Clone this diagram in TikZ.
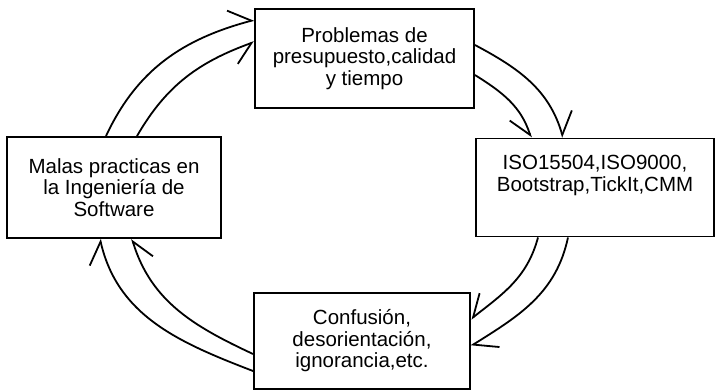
\documentclass[tikz,border=0pt]{standalone}
\usepackage{fontspec}
\setmainfont{Liberation Sans}
\usepackage{tikz}
\usetikzlibrary{positioning}
\usetikzlibrary{arrows.meta}
\tikzset{	x=1pt, y=1pt,
	caja/.style={
		draw,
		line width=1.9pt,
		inner sep=0pt,
		align=center,
		font=\fontsize{20.5}{21.5}\selectfont},
	every edge/.style={
		draw,
		line width=1.8pt},
	exterior/.style={-{Straight Barb[left, length=21pt, width=32pt]}},
	interior/.style={-{Straight Barb[right, length=20pt, width=30pt]}}
}

\begin{document}
\begin{tikzpicture}
	\useasboundingbox (0,0) rectangle (716,-391);
	\node[caja, minimum width=214pt, minimum height=101pt] (malas) at (114,-187.5) {Malas practicas en\\la Ingeniería de\\Software};
	\node[caja, minimum width=238pt, minimum height=98pt, right of=malas, node distance=481pt] (iso) {ISO15504,ISO9000,\\Bootstrap,TickIt,CMM\\\strut};
	\node[caja, minimum width=219pt, minimum height=99pt] (prob) at (364.5,-58.5) {Problemas de\\presupuesto,calidad\\y tiempo};
	\node[caja, minimum width=216pt, minimum height=96pt] (conf) at (362,-341) {Confusión,\\desorientación,\\ignorancia,etc.};
	% anillo exterior
	\draw ([xshift=-8pt]malas.north) edge[out=65, in=195, exterior] ([yshift=38.5pt]prob.west);
	\draw ([yshift=13.5pt]prob.east) edge[out=-28, in=106, exterior] ([xshift=-32pt]iso.north);
	\draw ([xshift=-27pt]iso.south) edge[out=-102, in=32, exterior] ([yshift=-5pt]conf.east);
	\draw ([yshift=-30pt]conf.west) edge[out=159, in=-77, exterior] ([xshift=-14pt]malas.south);
	% anillo interior
	\draw ([xshift=23pt]malas.north) edge[out=60, in=200, interior] ([yshift=16.5pt]prob.west);
	\draw ([yshift=-16.5pt]prob.east) edge[out=-32, in=108, interior] ([xshift=-64pt]iso.north);
	\draw ([xshift=-57pt]iso.south) edge[out=-105, in=38, interior] ([yshift=22pt]conf.east);
	\draw ([yshift=-13pt]conf.west) edge[out=155, in=-73, interior] ([xshift=18pt]malas.south);
\end{tikzpicture}
\end{document}
